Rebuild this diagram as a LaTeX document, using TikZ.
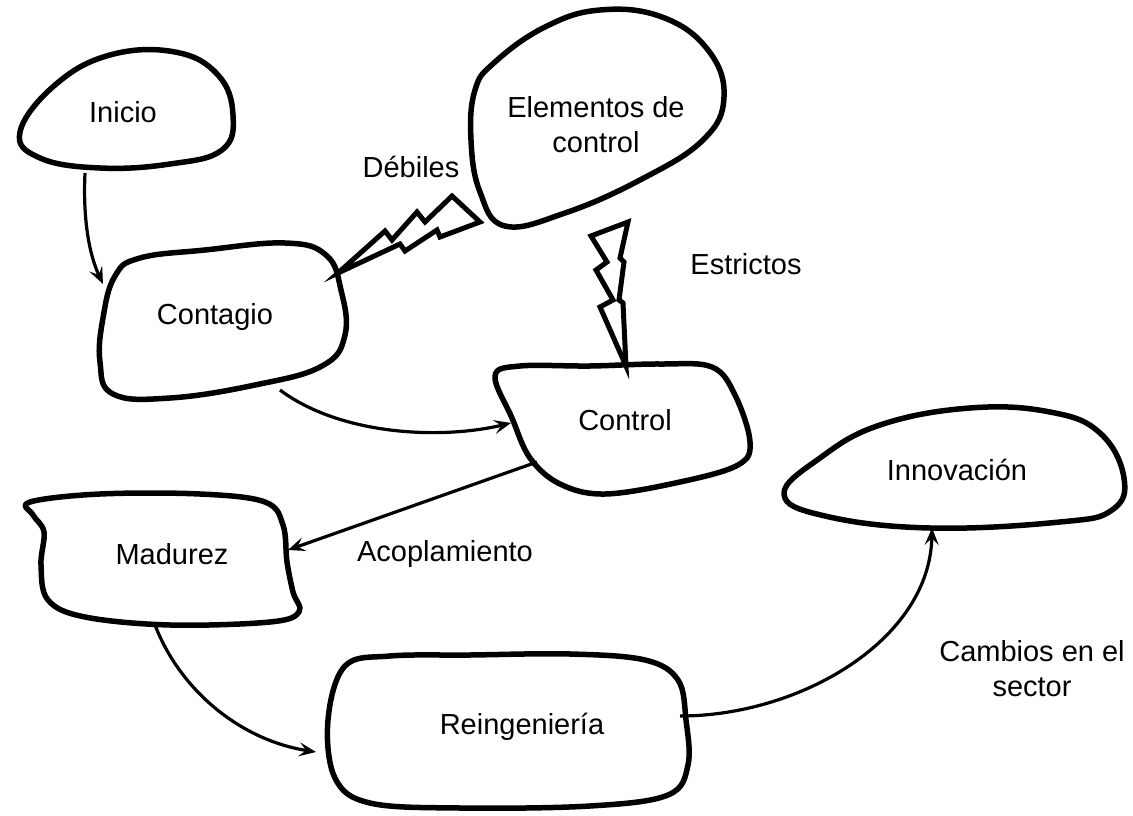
\documentclass[tikz,border=0pt]{standalone}
\usepackage{fontspec}
\setmainfont{Liberation Sans}
\usetikzlibrary{arrows.meta}
\begin{document}
\begin{tikzpicture}[x=1pt,y=-1pt,
  blob/.style={line width=5.5pt, line join=round},
  conn/.style={line width=3.2pt, -{Stealth[length=17pt,width=14pt,inset=7pt]}},
  bolt/.style={line width=5pt, line join=miter, fill=white},
  lbl/.style={font=\fontsize{29}{35}\selectfont, align=center, inner sep=0pt}]
\useasboundingbox (0,0) rectangle (1133,816);

% ---- outlines of the stages ----
\draw[blob] plot[smooth cycle, tension=0.7] coordinates
  {(20,132) (55,85) (110,55) (175,52) (218,75) (233,115) (222,150) (170,164) (100,168) (40,158)};
\draw[blob] plot[smooth cycle, tension=0.7] coordinates
  {(475,90) (495,62) (545,27) (600,10) (662,17) (708,50) (724,97) (703,140) (640,180) (565,213) (505,226) (480,192) (471,140)};
\draw[blob] plot[smooth cycle, tension=0.7] coordinates
  {(115,276) (140,258) (205,250) (285,243) (326,255) (341,290) (345,335) (322,366) (255,385) (170,398) (113,394) (100,362) (103,318)};
\draw[blob] plot[smooth cycle, tension=0.6] coordinates
  {(495,376) (520,366) (590,366) (660,364) (712,367) (735,395) (750,442) (738,465) (680,482) (605,494) (560,484) (530,458) (512,418)};
\draw[blob] plot[smooth cycle, tension=0.6] coordinates
  {(30,502) (100,494) (200,494) (265,502) (283,525) (287,562) (293,592) (299,612) (270,622) (170,625) (85,617) (48,600) (41,565) (44,532) (33,515)};
\draw[blob] plot[smooth cycle, tension=0.6] coordinates
  {(345,666) (390,656) (470,655) (570,654) (645,660) (678,680) (686,720) (688,765) (668,795) (590,806) (460,808) (370,803) (335,778) (328,720)};
\draw[blob] plot[smooth cycle, tension=0.7] coordinates
  {(784,494) (820,458) (880,425) (970,408) (1050,412) (1100,433) (1124,478) (1112,510) (1060,522) (930,528) (825,516)};

% ---- stage names ----
\node[lbl] (inicio)    at (123,112) {Inicio};
\node[lbl] (elementos) at (596,125) {Elementos de\\control};
\node[lbl] (contagio)  at (215,317) {Contagio};
\node[lbl] (control)   at (625,420) {Control};
\node[lbl] (madurez)   at (172,554) {Madurez};
\node[lbl] (reing)     at (522,727) {Reingeniería};
\node[lbl] (innov)     at (957,470) {Innovación};

% ---- labels of the links ----
\node[lbl] (debiles)    at (411,167) {Débiles};
\node[lbl] (estrictos)  at (746,264) {Estrictos};
\node[lbl] (acopla)     at (445,554) {Acoplamiento};
\node[lbl] (cambios)    at (1032,669) {Cambios en el\\sector};

% ---- attachment points on the outlines ----
\coordinate (inicio-s)   at (85,173);
\coordinate (contagio-w) at (103,284);
\coordinate (contagio-s) at (280,390);
\coordinate (contagio-e) at (338,273);
\coordinate (control-w)  at (511,423);
\coordinate (control-sw) at (537,462);
\coordinate (control-n)  at (626,366);
\coordinate (madurez-e)  at (288,550);
\coordinate (madurez-s)  at (155,625);
\coordinate (reing-w)    at (316,752);
\coordinate (reing-e)    at (680,716);
\coordinate (innov-s)    at (932,528);
\coordinate (elem-sw)    at (480,222);
\coordinate (elem-s)     at (628,222);

% ---- arrows ----
\draw[conn] (inicio-s) .. controls (83,215) and (88,252) .. (contagio-w);
\draw[conn] (contagio-s) .. controls (340,435) and (440,440) .. (control-w);
\draw[conn] (control-sw) -- (madurez-e);
\draw[conn] (madurez-s) .. controls (180,690) and (240,740) .. (reing-w);
\draw[conn] (reing-e) .. controls (800,716) and (930,640) .. (innov-s);

% ---- lightning bolts ----
\draw[bolt] (contagio-e) -- (385,231) -- (392,240) -- (417,212) -- (425,222) -- (452,196)
  -- (elem-sw) -- (440,237) -- (437,230) -- (405,251) -- (400,244) -- cycle;
\draw[bolt] (elem-s) -- (591,236) -- (607,262) -- (596,270) -- (613,300) -- (600,307)
  -- (control-n) -- (623,303) -- (619,300) -- (624,262) -- (620,258) -- cycle;
\end{tikzpicture}
\end{document}
